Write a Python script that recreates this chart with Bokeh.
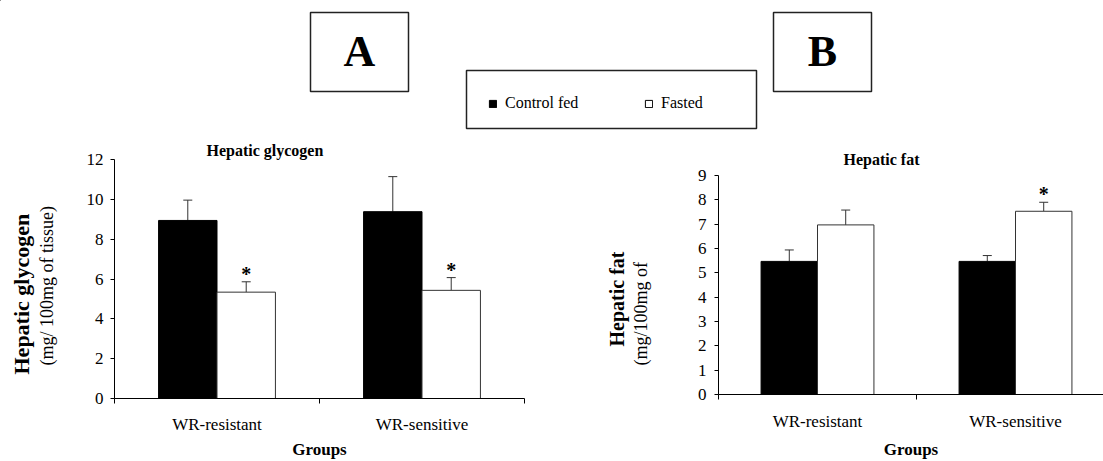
from bokeh.plotting import figure
from bokeh.models import (Range1d, FixedTicker, SingleIntervalTicker, Whisker, TeeHead, Title,
                          ColumnDataSource, Legend, LegendItem)
from bokeh.layouts import column, row
from bokeh.embed import file_html
from bokeh.resources import INLINE
from bokeh.core.properties import value
from bokeh.transform import dodge

# ---------------- data ----------------
groups = ["WR-resistant", "WR-sensitive"]
series = ["Control fed", "Fasted"]

glycogen_control = [8.94, 9.38]
glycogen_control_err = [1.02, 1.76]
glycogen_fasted = [5.34, 5.43]
glycogen_fasted_err = [0.52, 0.64]
glycogen_fasted_sig = [True, True]

fat_control = [5.47, 5.47]
fat_control_err = [0.47, 0.24]
fat_fasted = [6.97, 7.53]
fat_fasted_err = [0.61, 0.37]
fat_fasted_sig = [False, True]

panel_titles = ["Hepatic glycogen", "Hepatic fat"]
ylabel_main = ["Hepatic glycogen", "Hepatic fat"]
ylabel_sub = ["(mg/ 100mg of tissue)", "(mg/100mg of"]
xlabel = "Groups"
panel_letters = ["A", "B"]

FONT = "Liberation Serif"
BAR_W = 0.285


def panel(width, height, bl, br, bt, bb, xmax, ymax, yint, ctrl, ctrl_err, fast, fast_err, sig,
          title, title_offset, title_standoff,
          y_standoff, gap,
          yl2, yl2_size, yl2_offset, yl2_standoff,
          yl1, yl1_size, yl1_offset, yl1_standoff,
          tick_standoff, label_standoff):
    p = figure(width=width, height=height, x_range=Range1d(0, xmax), y_range=Range1d(0, ymax),
               toolbar_location=None, output_backend="svg",
               min_border_left=bl, min_border_right=br, min_border_top=bt, min_border_bottom=bb)
    p.grid.visible = False
    p.outline_line_color = None
    p.background_fill_color = "white"

    p.title.text = title
    p.title.align = "left"
    p.title.offset = title_offset
    p.title.standoff = title_standoff
    p.title.vertical_align = "middle"
    p.title.text_font = FONT
    p.title.text_font_size = "16px"
    p.title.text_font_style = "bold"
    p.title.text_color = "black"

    centers = [i + 0.5 for i in range(len(groups))]
    src = ColumnDataSource(dict(
        xc=centers,
        ctrl=ctrl, fast=fast,
        ctrl_up=[v + e for v, e in zip(ctrl, ctrl_err)],
        fast_up=[v + e for v, e in zip(fast, fast_err)],
        star=["*" if s else "" for s in sig],
    ))

    for col, up, dx in (("ctrl", "ctrl_up", -BAR_W / 2), ("fast", "fast_up", BAR_W / 2)):
        w = Whisker(source=src, base=dodge("xc", dx), lower=col, upper=up, dimension="height",
                    line_color="#333333", line_width=1, lower_head=None,
                    upper_head=TeeHead(size=9, line_color="#333333", line_width=1))
        p.add_layout(w)

    p.vbar(x=dodge("xc", -BAR_W / 2), top="ctrl", bottom=0, width=BAR_W, source=src,
           fill_color="black", line_color="black", line_width=1)
    p.vbar(x=dodge("xc", BAR_W / 2), top="fast", bottom=0, width=BAR_W, source=src,
           fill_color="white", line_color="#333333", line_width=1)

    p.text(x=dodge("xc", BAR_W / 2), y="fast_up", text="star", source=src,
           text_font=value(FONT), text_font_size="20px", text_font_style="bold",
           text_align="center", text_baseline="middle", y_offset=-8, text_color="black")

    # y axis
    ya = p.yaxis[0]
    ya.ticker = SingleIntervalTicker(interval=yint)
    ya.minor_tick_line_color = None
    ya.major_tick_out = 4
    ya.major_tick_in = 0
    ya.major_label_standoff = y_standoff
    ya.major_label_text_font = FONT
    ya.major_label_text_font_size = "17px"
    ya.major_label_text_color = "black"
    ya.axis_line_color = "black"
    ya.major_tick_line_color = "black"
    # invisible spacer between tick labels and the axis titles
    ya.axis_label = "\u00a0"
    ya.axis_label_text_font_size = "1px"
    ya.axis_label_standoff = gap

    # y titles (two lines, outward from the axis)
    p.add_layout(Title(text=yl2, align="left", offset=yl2_offset, standoff=yl2_standoff,
                       vertical_align="middle", text_font=FONT, text_font_size=yl2_size,
                       text_font_style="normal", text_color="black"), "left")
    p.add_layout(Title(text=yl1, align="left", offset=yl1_offset, standoff=yl1_standoff,
                       vertical_align="middle", text_font=FONT, text_font_size=yl1_size,
                       text_font_style="bold", text_color="black"), "left")

    # x axis: labels at group centres, ticks at group boundaries
    xa = p.xaxis[0]
    xa.ticker = FixedTicker(ticks=centers, minor_ticks=list(range(len(groups) + 1)))
    xa.major_label_overrides = {c: g for c, g in zip(centers, groups)}
    xa.major_tick_out = 0
    xa.major_tick_in = 0
    xa.major_tick_line_color = None
    xa.minor_tick_out = 5
    xa.minor_tick_in = 0
    xa.minor_tick_line_color = "black"
    xa.axis_line_color = "black"
    xa.major_label_standoff = tick_standoff
    xa.major_label_text_font = FONT
    xa.major_label_text_font_size = "17px"
    xa.major_label_text_color = "black"
    xa.axis_label = xlabel
    xa.axis_label_text_font = FONT
    xa.axis_label_text_font_size = "17px"
    xa.axis_label_text_font_style = "bold"
    xa.axis_label_text_color = "black"
    xa.axis_label_standoff = label_standoff
    return p


left = panel(566, 321, 114, 42, 17, 63, 2.0, 12, 2,
             glycogen_control, glycogen_control_err, glycogen_fasted, glycogen_fasted_err,
             glycogen_fasted_sig,
             panel_titles[0], 92, 0,
             7, 21,
             ylabel_sub[0], "18px", 33, 2,
             ylabel_main[0], "22px", 24, 0,
             11, 3)

right = panel(537, 321, 152, 0, 35, 67, 385 / 198, 9, 1,
              fat_control, fat_control_err, fat_fasted, fat_fasted_err, fat_fasted_sig,
              panel_titles[1], 125, 14,
              8, 38,
              ylabel_sub[1], "18px", 29, 2,
              ylabel_main[1], "20px", 48, 0,
              12, 6)

# ---------------- header (panel letters + legend) ----------------
top = figure(width=1103, height=140, x_range=Range1d(0, 1103), y_range=Range1d(140, 0),
             toolbar_location=None, output_backend="svg", min_border=0,
             x_axis_location=None, y_axis_location=None)
top.grid.visible = False
top.outline_line_color = None

top.quad(left=[310, 773], right=[408, 871], top=[12, 12], bottom=[91, 91],
         fill_color=None, line_color="#222222", line_width=1.5)
top.text(x=[359, 822], y=[51, 51], text=panel_letters, text_font=value(FONT),
         text_font_size="44px", text_font_style="bold", text_align="center",
         text_baseline="middle", text_color="black")
top.quad(left=[466], right=[756], top=[70], bottom=[128],
         fill_color=None, line_color="#222222", line_width=1.5)

# off-screen swatches so the legend has glyphs to draw
swatch = ColumnDataSource(dict(x=[-100], top=[-100]))
r1 = top.vbar(x="x", top="top", width=1, source=swatch, fill_color="black", line_color="black")
r2 = top.vbar(x="x", top="top", width=1, source=swatch, fill_color="white", line_color="black")
leg = Legend(items=[LegendItem(label=series[0], renderers=[r1]),
                    LegendItem(label=series[1], renderers=[r2])],
             orientation="horizontal", location=(488, 27), padding=0, margin=0,
             glyph_width=9, glyph_height=9, label_height=20, label_width=80, spacing=59,
             label_standoff=8, label_text_font=FONT, label_text_font_size="16px",
             label_text_color="black", border_line_color=None, background_fill_alpha=0)
top.add_layout(leg)

layout = column(top, row(column(left), column(right)))

with open("out.html", "w") as f:
    f.write(file_html(layout, INLINE))
